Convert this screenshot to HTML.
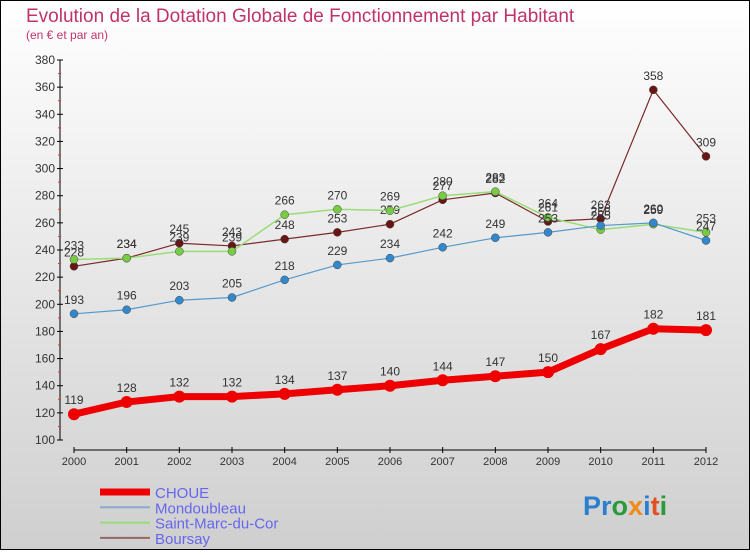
<!DOCTYPE html>
<html><head><meta charset="utf-8"><style>
body{margin:0}
svg text{font-family:"Liberation Sans",sans-serif}
</style></head><body>
<svg id="c" width="750" height="550" xmlns="http://www.w3.org/2000/svg">
<defs><linearGradient id="bg" x1="0" y1="0" x2="0" y2="1"><stop offset="0" stop-color="#ffffff"/><stop offset="1" stop-color="#cfcfcf"/></linearGradient></defs>
<rect x="0.5" y="0.5" width="749" height="549" fill="url(#bg)" stroke="#000"/>
<text x="26" y="22" font-size="19" fill="#c0336a">Evolution de la Dotation Globale de Fonctionnement par Habitant</text>
<text x="26" y="39" font-size="12" fill="#c0336a">(en € et par an)</text>
<g id="axes"></g><g id="series"></g><g id="legend"></g>
<text x="583" y="515" font-size="27" font-weight="bold"><tspan fill="#2a7fd0">Pr</tspan><tspan fill="#2a9a3a">o</tspan><tspan fill="#f08a1a">x</tspan><tspan fill="#2a7fd0">i</tspan><tspan fill="#e05020">t</tspan><tspan fill="#2a9a3a">i</tspan></text>
</svg>
<script>
const years=[2000,2001,2002,2003,2004,2005,2006,2007,2008,2009,2010,2011,2012];
const yTicks=[100,120,140,160,180,200,220,240,260,280,300,320,340,360,380];
const choue=[119,128,132,132,134,137,140,144,147,150,167,182,181];
const mondoubleau=[193,196,203,205,218,229,234,242,249,253,258,260,247];
const saintMarc=[233,234,239,239,266,270,269,280,283,264,255,259,253];
const boursay=[228,234,245,243,248,253,259,277,282,261,263,358,309];
const NS="http://www.w3.org/2000/svg";
const X=i=>74+i*(706-74)/12;
const Y=v=>440-(v-100)*(380/280);
function mk(tag,attrs,parent,txt){const e=document.createElementNS(NS,tag);for(const k in attrs)e.setAttribute(k,attrs[k]);if(txt!==undefined)e.textContent=txt;parent.appendChild(e);return e;}
const ax=document.getElementById('axes');
let yl=mk('line',{x1:60,y1:Y(380),x2:60,y2:Y(100),stroke:'#000'},ax);


yTicks.forEach(v=>{
 const t=mk('line',{x1:57,x2:63,y1:Y(v),y2:Y(v),stroke:'#000'},ax);
 
 
 if(v<380){
 const m=mk('line',{x1:58,x2:61,y1:Y(v+10),y2:Y(v+10),stroke:'#e33'},ax);
 
 
 }
 const l=mk('text',{x:55,y:Y(v)+4,'font-size':12,'text-anchor':'end',fill:'#333'},ax,v);
 
 
});
let xl=mk('line',{x1:X(0),y1:450,x2:X(12),y2:450,stroke:'#000'},ax);


years.forEach((y,i)=>{
 const t=mk('line',{x1:X(i),x2:X(i),y1:447,y2:453,stroke:'#000'},ax);
 
 
 const l=mk('text',{x:X(i),y:465,'font-size':11,'text-anchor':'middle',fill:'#333'},ax,y);
 
 
});
const ser=[
 {name:'Boursay',d:boursay,c:'#7a2a2a',dot:'#6a1515',w:1.2,r:4},
 {name:'Saint-Marc-du-Cor',d:saintMarc,c:'#99dd77',dot:'#77cc44',w:1.5,r:4},
 {name:'Mondoubleau',d:mondoubleau,c:'#5599cc',dot:'#3388cc',w:1.2,r:4},
 {name:'CHOUE',d:choue,c:'#ee0000',dot:'#ee0000',w:7,r:6}
];
const sg=document.getElementById('series');
ser.forEach(s=>{
 const p=mk('polyline',{points:s.d.map((v,i)=>X(i)+','+Y(v)).join(' '),fill:'none',stroke:s.c,'stroke-width':s.w,'stroke-linejoin':'round'},sg);
 
 
 s.d.forEach((v,i)=>{
  const c=mk('circle',{cx:X(i),cy:Y(v),r:s.r,fill:s.dot,stroke:'#444','stroke-width':s.w>5?0:0.5},sg);
  
  
  const t=mk('text',{x:X(i),y:Y(v)-10,'font-size':12,'text-anchor':'middle',fill:'#333'},sg,v);
  
  
 });
});
const lg=document.getElementById('legend');
[['CHOUE','#ee0000',7],['Mondoubleau','#88aacc',2],['Saint-Marc-du-Cor','#99dd77',2],['Boursay','#996666',2]].forEach((e,i)=>{
 const y=492+i*15.3;
 const l=mk('line',{x1:100,x2:150,y1:y,y2:y,stroke:e[1],'stroke-width':e[2]},lg);
 
 
 const t=mk('text',{x:155,y:y+6,'font-size':15,fill:'#6666ee'},lg,e[0]);
 
 
});
</script>
</body></html>
